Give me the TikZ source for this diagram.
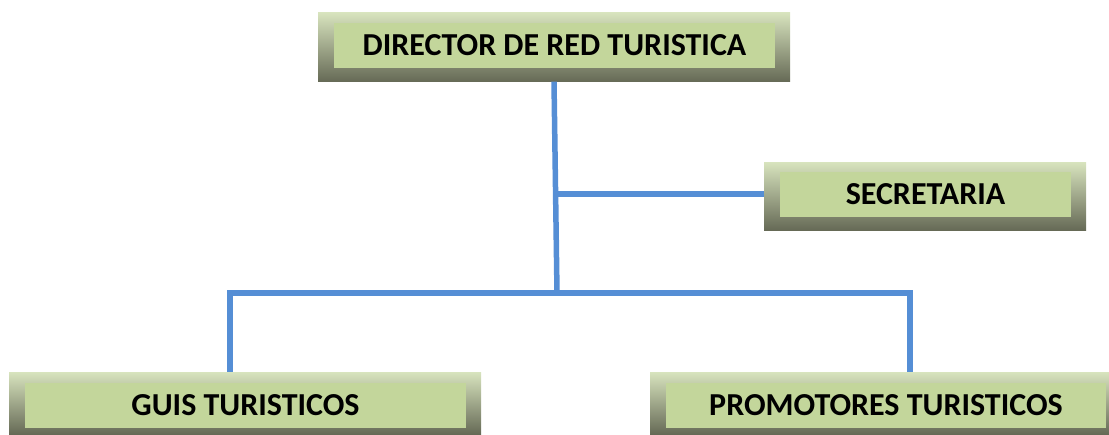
\documentclass[tikz,border=0pt]{standalone}
\usepackage{fontspec}
\setmainfont{Carlito}
\definecolor{linkblue}{RGB}{85,142,213}
\definecolor{boxgreen}{RGB}{195,214,155}
\definecolor{boxtop}{RGB}{216,228,190}
\definecolor{boxmid}{RGB}{190,202,158}
\definecolor{boxdark}{RGB}{102,106,86}
\begin{document}
\begin{tikzpicture}[
		x=1pt,
		y=-1pt,
		frame/.style={inner sep=0pt, top color=boxtop, middle color=boxmid, bottom color=boxdark},
		label/.style={inner sep=0pt, fill=boxgreen, font=\fontsize{32}{36}\selectfont\bfseries},
		link/.style={draw=linkblue, line width=5.5pt, line join=miter}
	]
		\useasboundingbox (0,0) rectangle (1109,434);
		\node[frame, minimum width=472pt, minimum height=69pt] (dirout) at (554,47) {};
		\node[label, minimum width=441pt, minimum height=45pt] (dir) at (554.5,45.5) {DIRECTOR DE RED TURISTICA};
		\node[frame, minimum width=322pt, minimum height=68pt] (secout) at (925,196) {};
		\node[label, minimum width=291pt, minimum height=45pt] (sec) at (925.5,194.5) {SECRETARIA};
		\node[frame, minimum width=472pt, minimum height=62pt] (guisout) at (245,403) {};
		\node[label, minimum width=441pt, minimum height=45pt] (guis) at (245.5,405.5) {GUIS TURISTICOS};
		\node[frame, minimum width=459pt, minimum height=62pt] (promout) at (879.5,403) {};
		\node[label, minimum width=440pt, minimum height=45pt] (prom) at (886,405.5) {PROMOTORES TURISTICOS};
		\coordinate (hub) at (557,293);
		\coordinate (secjoin) at (556,194);
		\coordinate (lc) at (230,293);
		\coordinate (rc) at (910,293);
		\draw[link] (dirout.south) -- (hub);
		\draw[link] (secjoin) -- (secout.west |- secjoin);
		\draw[link] (guisout.north -| lc) -- (lc) -- (rc) -- (promout.north -| rc);
\end{tikzpicture}
\end{document}
